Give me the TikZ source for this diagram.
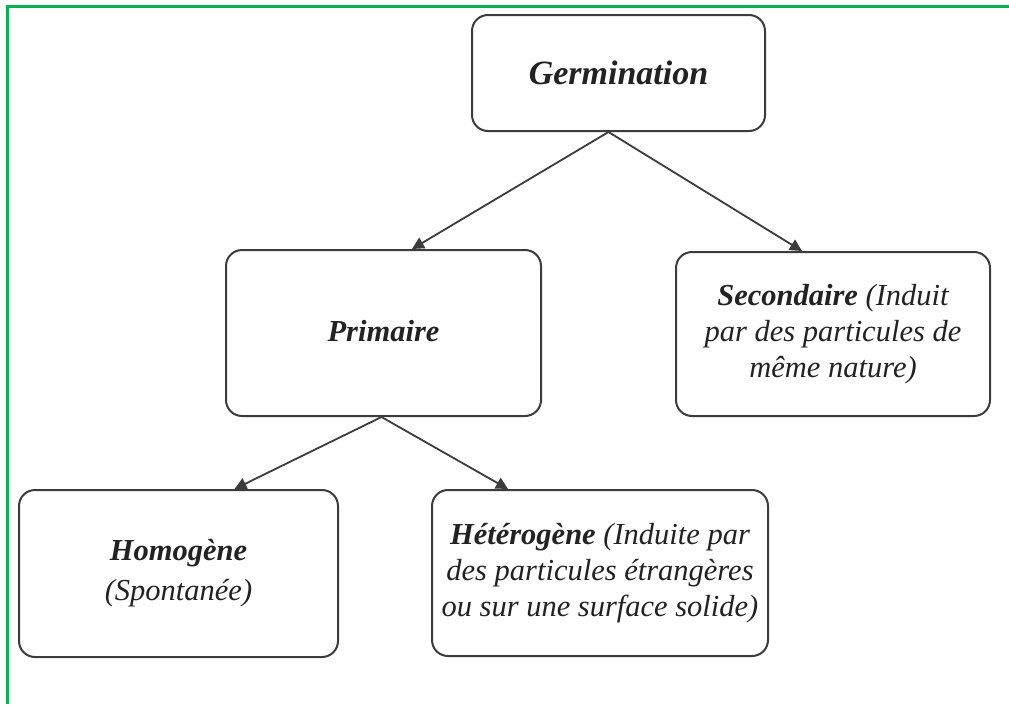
\documentclass[tikz,border=0pt]{standalone}
\usepackage{fontspec}
\setmainfont{Liberation Serif}
\usetikzlibrary{arrows.meta}
\definecolor{framegreen}{HTML}{0AB14F}
\definecolor{boxline}{HTML}{3C3C3C}
\definecolor{txt}{HTML}{222222}
\tikzset{
  box/.style={draw=boxline, line width=2pt, rounded corners=16pt, inner sep=0pt, align=center,
    font=\fontsize{30.5}{36}\selectfont\itshape, text=txt},
  arr/.style={draw=boxline, line width=1.8pt, -{Triangle[length=12pt,width=12pt]}},
}
\begin{document}
\begin{tikzpicture}[x=1pt,y=-1pt]
\useasboundingbox (0,0) rectangle (1009,704);
\draw[framegreen, line width=3pt] (7,704) -- (7,6.5) -- (1009,6.5);

\node[box, minimum width=293pt, minimum height=116pt] (germ) at (618.5,73)
  {\fontsize{34}{38}\selectfont\bfseries\raisebox{-4pt}{Germination}};
\node[box, minimum width=315pt, minimum height=166pt] (prim) at (383.5,333)
  {\bfseries\raisebox{4pt}{Primaire}};
\node[box, minimum width=314pt, minimum height=164pt] (sec) at (833,334)
  {\textbf{Secondaire} (Induit\\par des particules de\\même nature)};
\node[box, minimum width=319pt, minimum height=167pt, font=\fontsize{30.5}{40}\selectfont\itshape] (homo) at (178.5,573.5)
  {\textbf{Homogène}\\(Spontanée)};
\node[box, minimum width=336pt, minimum height=166pt] (hete) at (600,573)
  {\textbf{Hétérogène} (Induite par\\des particules étrangères\\ou sur une surface solide)};

\draw[arr] ([xshift=-10pt]germ.south) -- ([xshift=28.5pt]prim.north);
\draw[arr] ([xshift=-10pt]germ.south) -- ([xshift=-31pt]sec.north);
\draw[arr] ([xshift=-2pt]prim.south) -- ([xshift=56pt]homo.north);
\draw[arr] ([xshift=-2pt]prim.south) -- ([xshift=-92pt]hete.north);
\end{tikzpicture}
\end{document}
